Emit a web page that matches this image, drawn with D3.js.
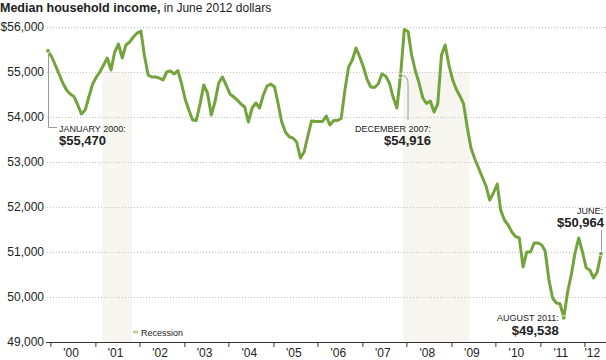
<!DOCTYPE html>
<html>
<head>
<meta charset="utf-8">
<script src="https://cdn.jsdelivr.net/npm/d3@7"></script>
<style>
  body { margin: 0; background: #fff; }
  svg { display: block; font-family: "Liberation Sans", Arial, sans-serif; }
</style>
</head>
<body>
<svg id="chart" width="606" height="360"></svg>
<script>
// ---- DATA ----
const startMonth = "2000-01";
const income = [
  55470, 55333, 55155, 54955, 54755, 54600, 54510, 54455, 54267, 54067, 54155, 54444, // 2000
  54733, 54889, 55000, 55155, 55311, 55044, 55444, 55622, 55311, 55600, 55667, 55778, // 2001
  55867, 55911, 55378, 54933, 54889, 54889, 54867, 54822, 55000, 55022, 54955, 55033, // 2002
  54733, 54378, 54155, 53933, 53922, 54289, 54711, 54533, 54044, 54333, 54755, 54889, // 2003
  54711, 54511, 54450, 54378, 54289, 54222, 53889, 54200, 54311, 54200, 54489, 54689, // 2004
  54733, 54667, 54311, 53889, 53667, 53561, 53533, 53444, 53089, 53222, 53578, 53911, // 2005
  53900, 53900, 53900, 54022, 53822, 53922, 53922, 53967, 54600, 55111, 55267, 55533, // 2006
  55333, 55100, 54844, 54667, 54655, 54733, 54955, 54911, 54755, 54444, 54200, 54916, // 2007
  55944, 55900, 55378, 55022, 54755, 54422, 54300, 54355, 54111, 54289, 55378, 55600, // 2008
  55155, 54822, 54622, 54467, 54289, 53755, 53311, 53067, 52867, 52667, 52467, 52155, // 2009
  52311, 52511, 51933, 51711, 51600, 51444, 51344, 51311, 50667, 51000, 51000, 51200, // 2010
  51200, 51155, 51022, 50378, 49978, 49867, 49850, 49538, 50111, 50489, 50978, 51311, // 2011
  51000, 50644, 50600, 50422, 50555, 50964                                              // 2012
];
const yTicks = [49000, 50000, 51000, 52000, 53000, 54000, 55000, 56000];
const xYears = [2000, 2001, 2002, 2003, 2004, 2005, 2006, 2007, 2008, 2009, 2010, 2011, 2012];
const xLabels = ["'00", "'01", "'02", "'03", "'04", "'05", "'06", "'07", "'08", "'09", "'10", "'11", "'12"];
const recessionStart = ["2001-03", "2007-12"];
const recessionEnd = ["2001-11", "2009-06"];
const noteMonths = ["2000-01", "2007-12", "2011-08", "2012-06"];
const noteTitles = ["JANUARY 2000:", "DECEMBER 2007:", "AUGUST 2011:", "JUNE:"];
const noteValues = ["$55,470", "$54,916", "$49,538", "$50,964"];

// ---- SETUP ----
const parse = d3.timeParse("%Y-%m");
const t0 = parse(startMonth);
const dates = income.map((_, i) => d3.timeMonth.offset(t0, i));
const data = dates.map((d, i) => ({ date: d, value: income[i] }));

const svg = d3.select("#chart");
const W = 606;
const x = d3.scaleTime().domain([dates[0], dates[dates.length - 1]]).range([48, 601]);
const y = d3.scaleLinear().domain([49000, 56000]).range([342, 27]);
const calShift = 2.4; // calendar elements (ticks, bands) sit slightly right of the line's month points

const green = "#73a33b";
const ink = "#222";

// recession bands
const bands = svg.append("g").attr("transform", `translate(${calShift},0)`);
recessionStart.forEach((s, i) => {
  const a = x(parse(s)), b = x(parse(recessionEnd[i]));
  bands.append("rect")
    .attr("x", a).attr("width", b - a)
    .attr("y", y(55000)).attr("height", y(49000) - y(55000))
    .attr("fill", "#f6f5f0");
});

// gridlines
svg.append("g").selectAll("line")
  .data(yTicks.filter(v => v > 49000))
  .join("line")
  .attr("x1", 47).attr("x2", W)
  .attr("y1", d => y(d) + 0.5).attr("y2", d => y(d) + 0.5)
  .attr("stroke", "#c4c4c4").attr("stroke-width", 1)
  .attr("stroke-dasharray", "1,2");

// y labels
svg.append("g").selectAll("text")
  .data(yTicks)
  .join("text")
  .attr("x", 44).attr("y", d => y(d))
  .attr("dy", "0.35em")
  .attr("text-anchor", "end")
  .attr("font-size", 12)
  .attr("fill", ink)
  .text(d => (d === 56000 ? "$" : "") + d3.format(",")(d));

// x axis
const xAxisG = svg.append("g").attr("transform", `translate(${calShift},0)`);
xAxisG.append("line")
  .attr("x1", 46 - calShift).attr("x2", W)
  .attr("y1", y(49000) + 0.5).attr("y2", y(49000) + 0.5)
  .attr("stroke", "#333").attr("stroke-width", 1);
xAxisG.selectAll("line.tick")
  .data(xYears)
  .join("line")
  .attr("class", "tick")
  .attr("x1", d => Math.round(x(new Date(d, 0, 1))) + 0.5)
  .attr("x2", d => Math.round(x(new Date(d, 0, 1))) + 0.5)
  .attr("y1", y(49000)).attr("y2", y(49000) + 5)
  .attr("stroke", "#333");
xAxisG.selectAll("text")
  .data(xYears)
  .join("text")
  .attr("x", d => Math.min(x(new Date(d, 6, 1)) - 1.5, 590))
  .attr("y", 357)
  .attr("text-anchor", "middle")
  .attr("font-size", 12)
  .attr("fill", ink)
  .text((d, i) => xLabels[i]);

// legend
const lg = svg.append("g");
lg.append("rect").attr("x", 133).attr("y", 330.5).attr("width", 5).attr("height", 3)
  .attr("fill", "#c3cfab");
lg.append("text").attr("x", 141).attr("y", 336).attr("font-size", 9).attr("fill", ink).text("Recession");

// line
const line = d3.line().x(d => x(d.date)).y(d => y(d.value)).curve(d3.curveLinear);
svg.append("path")
  .datum(data)
  .attr("d", line)
  .attr("fill", "none")
  .attr("stroke", green)
  .attr("stroke-width", 3)
  .attr("stroke-linejoin", "round")
  .attr("stroke-linecap", "round");

// annotations
const notes = svg.append("g");
const val = m => data[d3.timeMonth.count(t0, parse(m))].value;
const leader = { stroke: "#9a9a9a", width: 1 };

// Jan 2000
{
  const px = x(parse(noteMonths[0])), py = y(val(noteMonths[0]));
  notes.append("path")
    .attr("d", `M${px + 0.5},${py + 3} V127.5 H${px + 9}`)
    .attr("fill", "none").attr("stroke", leader.stroke).attr("stroke-width", leader.width);
  notes.append("text").attr("x", px + 11).attr("y", 132).attr("font-size", 9).attr("fill", ink).text(noteTitles[0]);
  notes.append("text").attr("x", px + 11).attr("y", 145).attr("font-size", 13).attr("font-weight", "bold").attr("fill", ink).text(noteValues[0]);
}
// Dec 2007
{
  const px = x(parse(noteMonths[1])), py = y(val(noteMonths[1]));
  notes.append("path")
    .attr("d", `M${px + 2},${py} Q${px + 7.5},${py} ${px + 7.5},${py + 8} V120`)
    .attr("fill", "none").attr("stroke", leader.stroke).attr("stroke-width", leader.width);
  notes.append("text").attr("x", px + 30.5).attr("y", 132).attr("font-size", 9).attr("text-anchor", "end").attr("fill", ink).text(noteTitles[1]);
  notes.append("text").attr("x", px + 30.5).attr("y", 145).attr("font-size", 13).attr("font-weight", "bold").attr("text-anchor", "end").attr("fill", ink).text(noteValues[1]);
}
// Aug 2011
{
  const px = x(parse(noteMonths[2]));
  notes.append("text").attr("x", px - 5).attr("y", 321).attr("font-size", 9).attr("text-anchor", "end").attr("fill", ink).text(noteTitles[2]);
  notes.append("text").attr("x", px - 5).attr("y", 334.5).attr("font-size", 13).attr("font-weight", "bold").attr("text-anchor", "end").attr("fill", ink).text(noteValues[2]);
}
// June 2012
{
  const px = x(parse(noteMonths[3])), py = y(val(noteMonths[3]));
  notes.append("line")
    .attr("x1", px + 0.5).attr("x2", px + 0.5).attr("y1", 230).attr("y2", py - 3)
    .attr("stroke", leader.stroke).attr("stroke-width", leader.width);
  notes.append("text").attr("x", 603).attr("y", 214).attr("font-size", 9).attr("text-anchor", "end").attr("fill", ink).text(noteTitles[3]);
  notes.append("text").attr("x", 604).attr("y", 227).attr("font-size", 13).attr("font-weight", "bold").attr("text-anchor", "end").attr("fill", ink).text(noteValues[3]);
}
// dots
notes.selectAll("circle")
  .data(noteMonths)
  .join("circle")
  .attr("cx", m => x(parse(m)))
  .attr("cy", m => y(val(m)))
  .attr("r", 2.3)
  .attr("fill", green)
  .attr("stroke", "#fff").attr("stroke-width", 0.8);

// title
const title = svg.append("text").attr("x", 0).attr("y", 12).attr("fill", ink);
title.append("tspan").attr("font-weight", "bold").attr("font-size", 12.5).text("Median household income,");
title.append("tspan").attr("font-size", 12).text(" in June 2012 dollars");
</script>
</body>
</html>
